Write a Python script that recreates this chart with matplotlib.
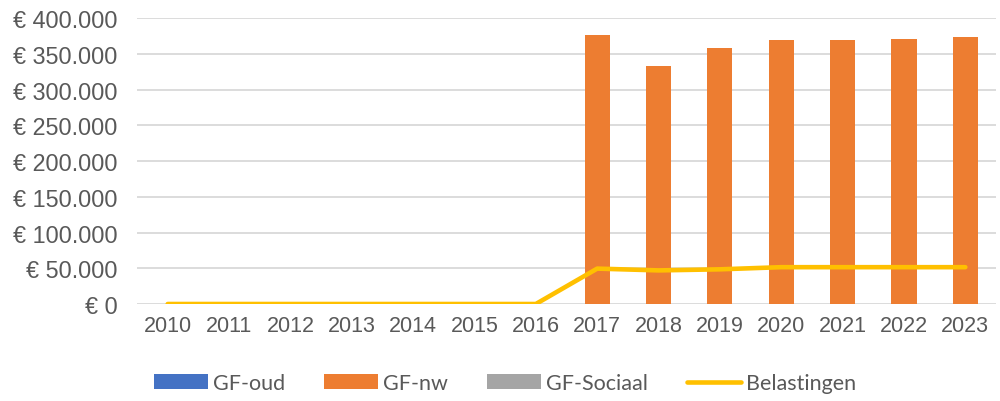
import matplotlib
matplotlib.use('Agg')
import matplotlib.pyplot as plt
import numpy as np
from matplotlib.ticker import FuncFormatter

# data
years = [str(y) for y in range(2010, 2024)]
gf_oud = [0] * 14
gf_nw = [0, 0, 0, 0, 0, 0, 0, 376000, 333000, 358000, 369000, 369000, 371000, 373000]
gf_sociaal = [0] * 14
belastingen = [0, 0, 0, 0, 0, 0, 0, 49500, 47000, 48500, 51500, 51500, 51500, 51500]

txt = '#595959'
plt.rcParams['font.family'] = ['Liberation Sans', 'DejaVu Sans']

fig = plt.figure(figsize=(10, 4.02), dpi=100)
ax = fig.add_axes([0.137, 0.2413, 0.859, 0.7114])

x = np.arange(len(years))
w = 0.41
b1 = ax.bar(x - w, gf_oud, w, color='#4472C4', label='GF-oud', zorder=2)
b2 = ax.bar(x, gf_nw, w, color='#ED7D31', label='GF-nw', zorder=2)
b3 = ax.bar(x + w, gf_sociaal, w, color='#A5A5A5', label='GF-Sociaal', zorder=2)
l1, = ax.plot(x, belastingen, color='#FFC000', lw=3.3, solid_capstyle='round',
              solid_joinstyle='round', label='Belastingen', zorder=3)

ax.set_xlim(-0.5, len(years) - 0.5)
ax.set_ylim(0, 400000)
ax.set_yticks(np.arange(0, 400001, 50000))
ax.yaxis.set_major_formatter(FuncFormatter(
    lambda v, p: '€ ' + f'{int(v):,}'.replace(',', '.')))
ax.set_xticks(x)
ax.set_xticklabels(years)
ax.grid(axis='y', color='#D9D9D9', lw=1.3, zorder=0)
for s in ax.spines.values():
    s.set_visible(False)
ax.tick_params(length=0, labelcolor=txt)
ax.tick_params(axis='x', pad=8, labelsize=15.5)
ax.tick_params(axis='y', pad=14, labelsize=16.8)

fig.legend([b1, b2, b3, l1], ['GF-oud', 'GF-nw', 'GF-Sociaal', 'Belastingen'],
           loc='center', bbox_to_anchor=(0.505, 0.045), ncol=4, frameon=False,
           prop={'family': ['Lato', 'DejaVu Sans'], 'size': 15.5},
           labelcolor=txt, handlelength=2.5, handletextpad=0.25, columnspacing=1.8,
           handleheight=0.65)

fig.savefig('out.png', dpi=100)
